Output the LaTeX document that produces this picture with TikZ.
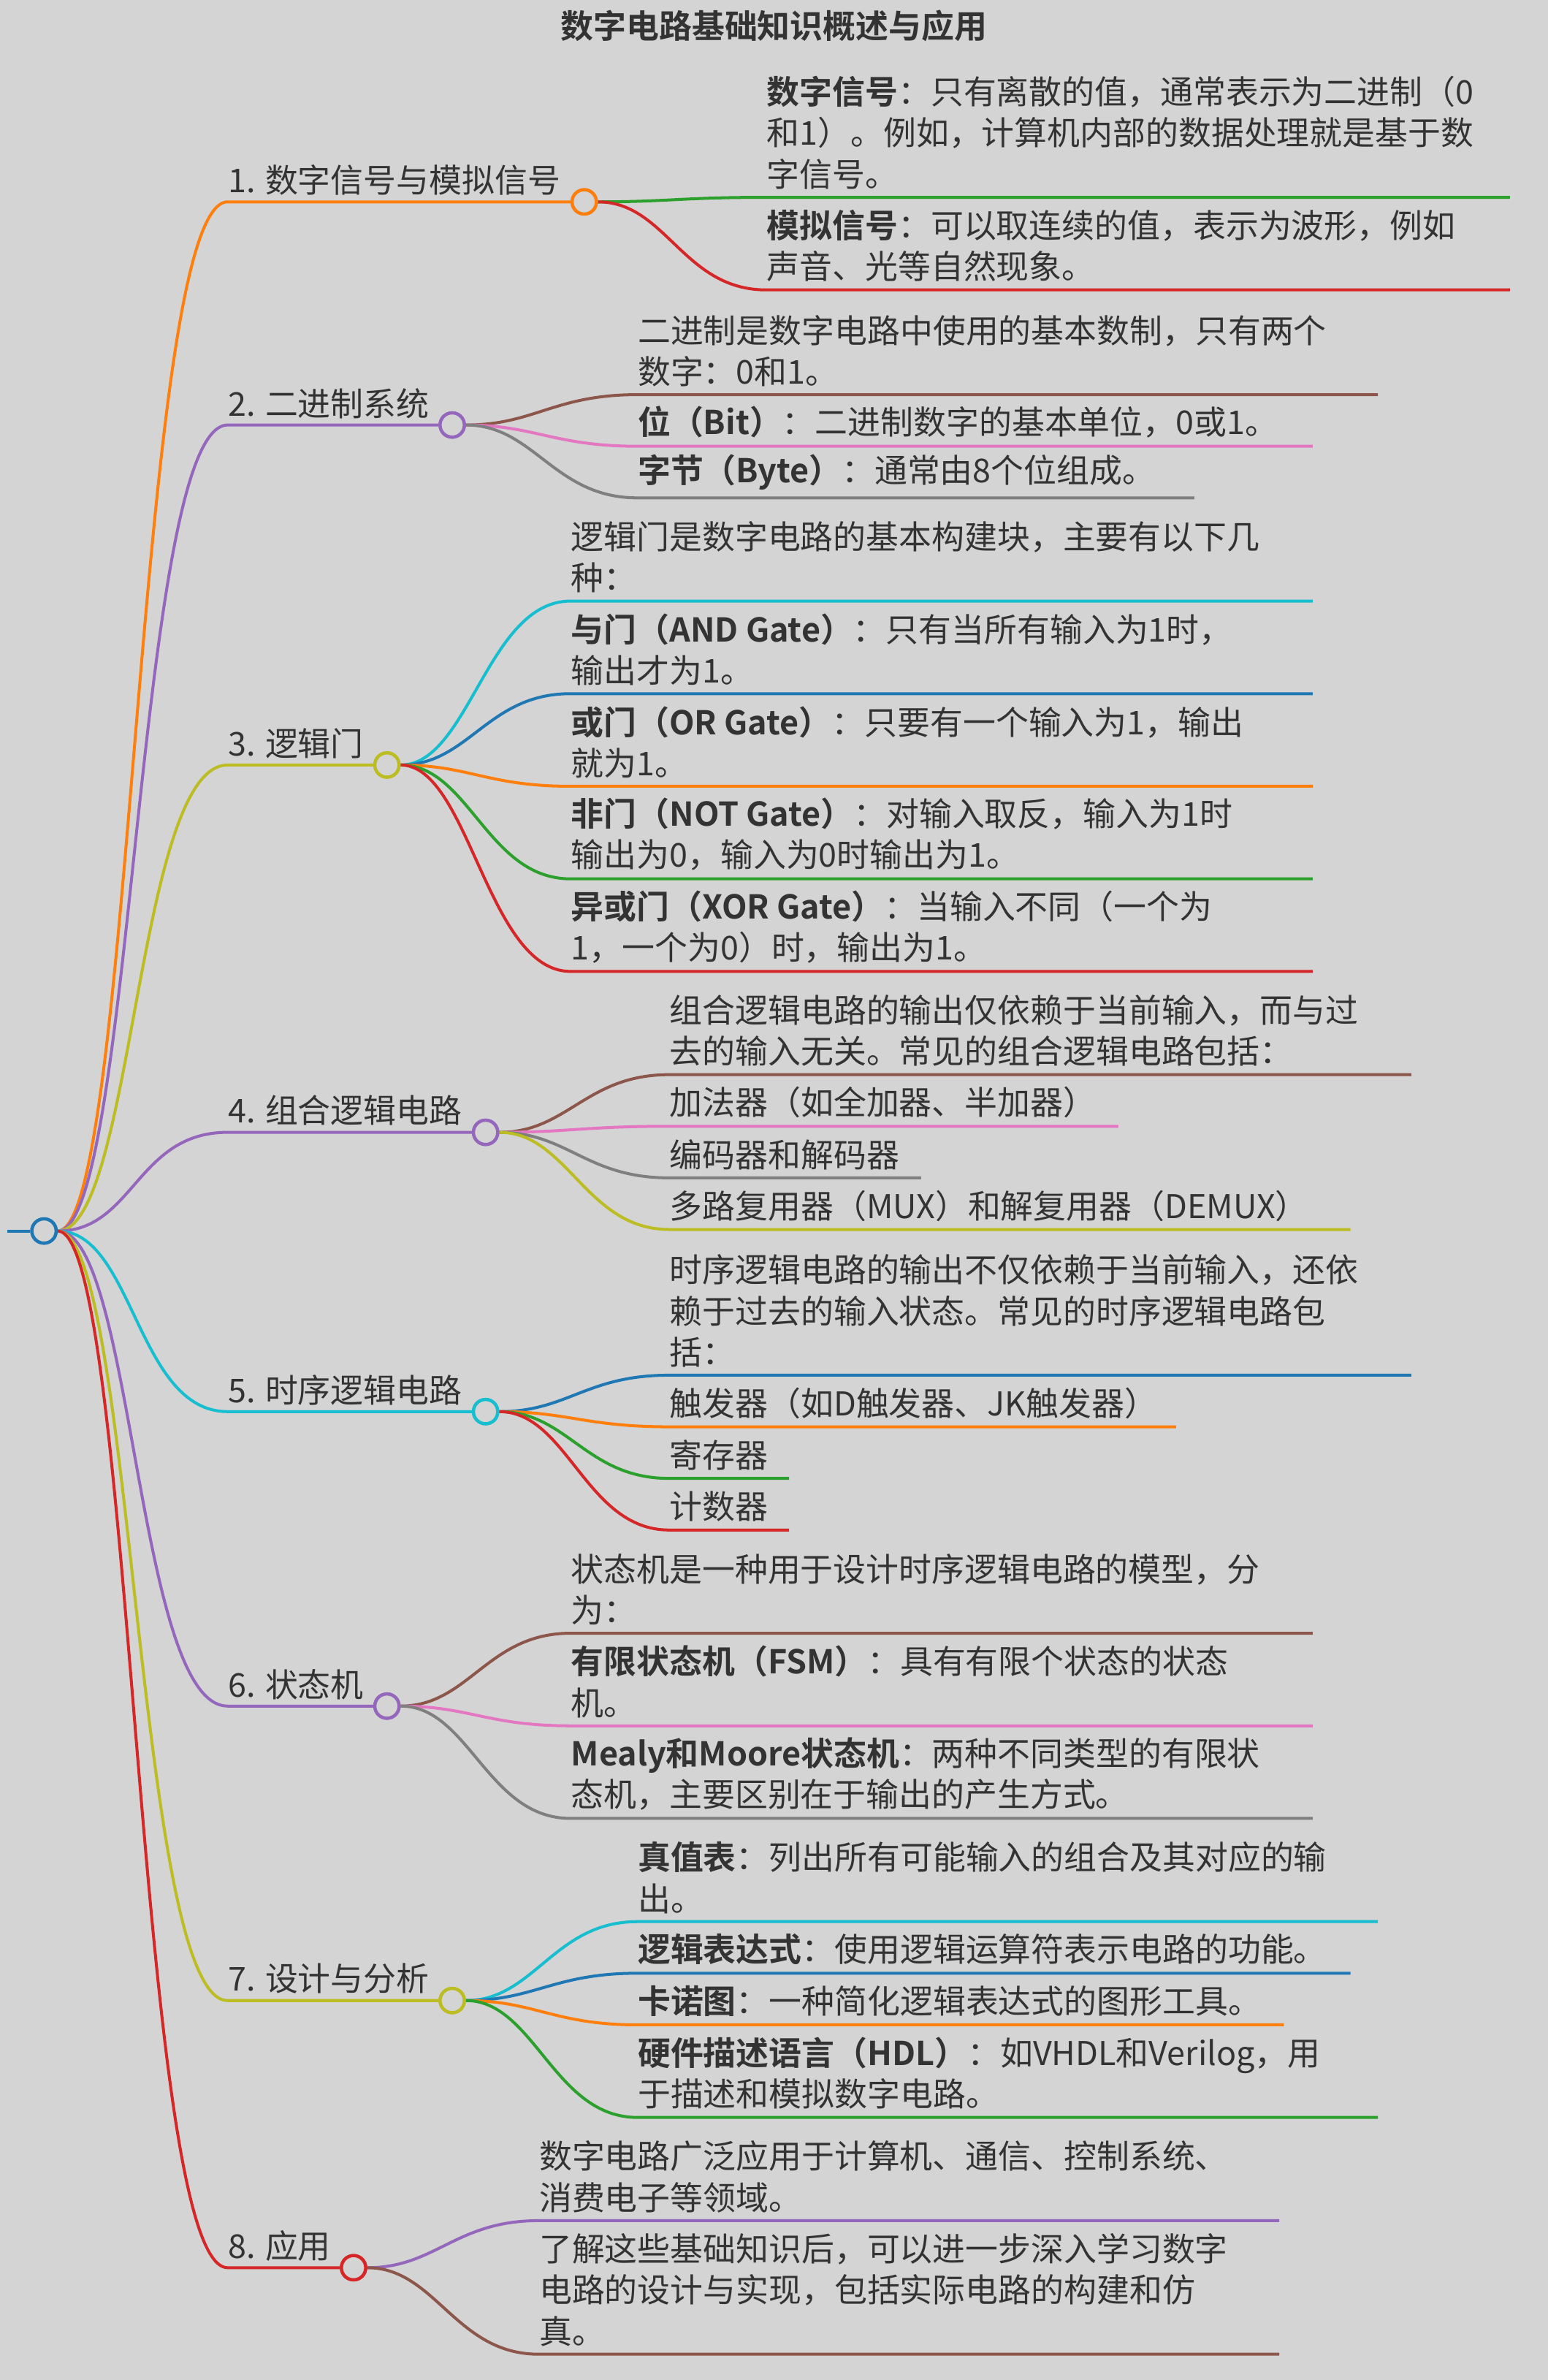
\documentclass[tikz,border=0pt]{standalone}
\usepackage{fontspec}
\setmainfont{Noto Sans CJK SC}[BoldFont={Noto Sans CJK SC Bold}]
\usetikzlibrary{positioning}
\definecolor{bgc}{HTML}{D4D4D4}
\definecolor{txt}{HTML}{333333}
\definecolor{cblue}{HTML}{1F77B4}
\definecolor{corange}{HTML}{FF7F0E}
\definecolor{cgreen}{HTML}{2CA02C}
\definecolor{cred}{HTML}{D62728}
\definecolor{cpurple}{HTML}{9467BD}
\definecolor{cbrown}{HTML}{8C564B}
\definecolor{cpink}{HTML}{E377C2}
\definecolor{cgray}{HTML}{7F7F7F}
\definecolor{colive}{HTML}{BCBD22}
\definecolor{ccyan}{HTML}{17BECF}
\tikzset{
	hub/.style={draw, circle, line width=1.2pt, minimum size=0.32cm, inner sep=0pt, fill=bgc},
	branchtext/.style={anchor=south west, inner sep=0pt, text=txt, font=\fontsize{12.3}{15.4}\selectfont},
	leaftext/.style={anchor=south west, inner sep=0pt, align=left, text=txt, font=\fontsize{12.3}{15.4}\selectfont},
	wire/.style={line width=1.1pt},
}
% name, parent, colour, x, y of underline, x end of underline, text
\newcommand{\leaf}[7]{%
	\coordinate (#1s) at (#4,-#5);
	\coordinate (#1e) at (#6,-#5);
	\node[leaftext] (#1) at (#4,-#5+5) {#7};
	\draw[wire, #3] (#2.east) .. controls +(45,0) and +(-55,0) .. (#1s) -- (#1e);
}
\begin{document}
\begin{tikzpicture}[x=0.02cm, y=0.02cm]
	\fill[bgc] (0,0) rectangle (1020,-1568);
	\useasboundingbox (0,0) rectangle (1020,-1568);
	
	\node (title) [font=\fontsize{12.3}{15}\selectfont\bfseries, text=txt] at (510,-17) {数字电路基础知识概述与应用};
	
	% root
	\coordinate (rootin) at (5,-811);
	\node (root) [hub, draw=cblue] at (29,-811) {};
	\draw[wire, cblue] (rootin) -- (root);
	
	% branch hubs
	\coordinate (b1s) at (150,-133);
	\coordinate (b2s) at (150,-280);
	\coordinate (b3s) at (150,-504);
	\coordinate (b4s) at (150,-746);
	\coordinate (b5s) at (150,-930);
	\coordinate (b6s) at (150,-1124);
	\coordinate (b7s) at (150,-1318);
	\coordinate (b8s) at (150,-1494);
	\node (b1) [hub, draw=corange] at (385,-133) {};
	\node (b2) [hub, draw=cpurple] at (298,-280) {};
	\node (b3) [hub, draw=colive] at (255,-504) {};
	\node (b4) [hub, draw=cpurple] at (320,-746) {};
	\node (b5) [hub, draw=ccyan] at (320,-930) {};
	\node (b6) [hub, draw=cpurple] at (255,-1124) {};
	\node (b7) [hub, draw=colive] at (298,-1318) {};
	\node (b8) [hub, draw=cred] at (233,-1494) {};
	
	\node[branchtext] (b1l) at (150,-129) {1. 数字信号与模拟信号};
	\node[branchtext] (b2l) at (150,-276) {2. 二进制系统};
	\node[branchtext] (b3l) at (150,-500) {3. 逻辑门};
	\node[branchtext] (b4l) at (150,-742) {4. 组合逻辑电路};
	\node[branchtext] (b5l) at (150,-926) {5. 时序逻辑电路};
	\node[branchtext] (b6l) at (150,-1120) {6. 状态机};
	\node[branchtext] (b7l) at (150,-1314) {7. 设计与分析};
	\node[branchtext] (b8l) at (150,-1490) {8. 应用};
	
	\foreach \b/\c in {b1/corange, b2/cpurple, b3/colive, b4/cpurple, b5/ccyan, b6/cpurple, b7/colive, b8/cred}
		\draw[wire, \c] (root.east) .. controls +(50,0) and +(-60,0) .. (\b s) -- (\b.west);
	
	% 1
	\leaf{l11}{b1}{cgreen}{505}{130}{995}{\textbf{数字信号}：只有离散的值，通常表示为二进制（0\\和1）。例如，计算机内部的数据处理就是基于数\\字信号。}
	\leaf{l12}{b1}{cred}{505}{191}{995}{\textbf{模拟信号}：可以取连续的值，表示为波形，例如\\声音、光等自然现象。}
	% 2
	\leaf{l21}{b2}{cbrown}{420}{260}{908}{二进制是数字电路中使用的基本数制，只有两个\\数字：0和1。}
	\leaf{l22}{b2}{cpink}{420}{294}{865}{\textbf{位（Bit）}：二进制数字的基本单位，0或1。}
	\leaf{l23}{b2}{cgray}{420}{328}{787}{\textbf{字节（Byte）}：通常由8个位组成。}
	% 3
	\leaf{l31}{b3}{ccyan}{376}{396}{865}{逻辑门是数字电路的基本构建块，主要有以下几\\种：}
	\leaf{l32}{b3}{cblue}{376}{457}{865}{\textbf{与门（AND Gate）}：只有当所有输入为1时，\\输出才为1。}
	\leaf{l33}{b3}{corange}{376}{518}{865}{\textbf{或门（OR Gate）}：只要有一个输入为1，输出\\就为1。}
	\leaf{l34}{b3}{cgreen}{376}{579}{865}{\textbf{非门（NOT Gate）}：对输入取反，输入为1时\\输出为0，输入为0时输出为1。}
	\leaf{l35}{b3}{cred}{376}{640}{865}{\textbf{异或门（XOR Gate）}：当输入不同（一个为\\1，一个为0）时，输出为1。}
	% 4
	\leaf{l41}{b4}{cbrown}{441}{708}{930}{组合逻辑电路的输出仅依赖于当前输入，而与过\\去的输入无关。常见的组合逻辑电路包括：}
	\leaf{l42}{b4}{cpink}{441}{742}{737}{加法器（如全加器、半加器）}
	\leaf{l43}{b4}{cgray}{441}{776}{607}{编码器和解码器}
	\leaf{l44}{b4}{colive}{441}{810}{890}{多路复用器（MUX）和解复用器（DEMUX）}
	% 5
	\leaf{l51}{b5}{cblue}{441}{906}{930}{时序逻辑电路的输出不仅依赖于当前输入，还依\\赖于过去的输入状态。常见的时序逻辑电路包\\括：}
	\leaf{l52}{b5}{corange}{441}{940}{775}{触发器（如D触发器、JK触发器）}
	\leaf{l53}{b5}{cgreen}{441}{974}{520}{寄存器}
	\leaf{l54}{b5}{cred}{441}{1008}{520}{计数器}
	% 6
	\leaf{l61}{b6}{cbrown}{376}{1076}{865}{状态机是一种用于设计时序逻辑电路的模型，分\\为：}
	\leaf{l62}{b6}{cpink}{376}{1137}{865}{\textbf{有限状态机（FSM）}：具有有限个状态的状态\\机。}
	\leaf{l63}{b6}{cgray}{376}{1198}{865}{\textbf{Mealy和Moore状态机}：两种不同类型的有限状\\态机，主要区别在于输出的产生方式。}
	% 7
	\leaf{l71}{b7}{ccyan}{420}{1266}{908}{\textbf{真值表}：列出所有可能输入的组合及其对应的输\\出。}
	\leaf{l72}{b7}{cblue}{420}{1300}{890}{\textbf{逻辑表达式}：使用逻辑运算符表示电路的功能。}
	\leaf{l73}{b7}{corange}{420}{1334}{846}{\textbf{卡诺图}：一种简化逻辑表达式的图形工具。}
	\leaf{l74}{b7}{cgreen}{420}{1395}{908}{\textbf{硬件描述语言（HDL）}：如VHDL和Verilog，用\\于描述和模拟数字电路。}
	% 8
	\leaf{l81}{b8}{cpurple}{355}{1463}{843}{数字电路广泛应用于计算机、通信、控制系统、\\消费电子等领域。}
	\leaf{l82}{b8}{cbrown}{355}{1551}{843}{了解这些基础知识后，可以进一步深入学习数字\\电路的设计与实现，包括实际电路的构建和仿\\真。}
	
	% redraw hubs on top
	\foreach \b/\c in {b1/corange, b2/cpurple, b3/colive, b4/cpurple, b5/ccyan, b6/cpurple, b7/colive, b8/cred}
		\node[hub, draw=\c] at (\b) {};
	\node[hub, draw=cblue] at (root) {};
\end{tikzpicture}
\end{document}
